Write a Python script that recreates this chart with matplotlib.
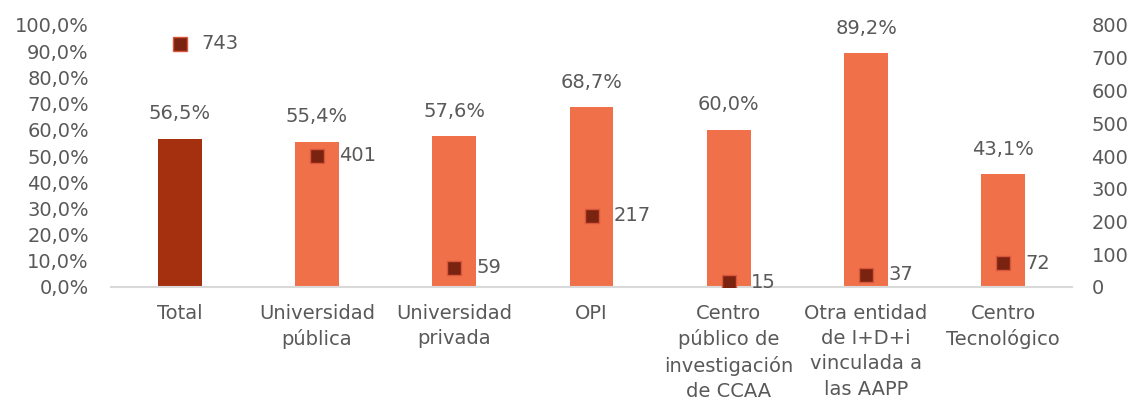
import matplotlib
matplotlib.use("Agg")
import matplotlib.pyplot as plt
import numpy as np

categories = ["Total", "Universidad\npública", "Universidad\nprivada", "OPI",
              "Centro\npúblico de\ninvestigación\nde CCAA",
              "Otra entidad\nde I+D+i\nvinculada a\nlas AAPP",
              "Centro\nTecnológico"]
pct_values = [56.5, 55.4, 57.6, 68.7, 60.0, 89.2, 43.1]
count_values = [743, 401, 59, 217, 15, 37, 72]
left_ticks = [0, 10, 20, 30, 40, 50, 60, 70, 80, 90, 100]
right_ticks = [0, 100, 200, 300, 400, 500, 600, 700, 800]

plt.rcParams['font.family'] = ['DejaVu Sans']
txt = '#595959'
fs = 14

fig = plt.figure(figsize=(11.37, 4.0), dpi=100)
ax = fig.add_axes([111/1137, 1-287/400, (1072-111)/1137, 262/400])
x = np.arange(len(categories))
colors = ['#A5300F'] + ['#F0704A'] * (len(categories) - 1)
ax.bar(x, pct_values, width=0.32, color=colors, zorder=2)
ax.set_xlim(-0.5, len(categories) - 0.5)
ax.set_ylim(0, 100)
ax.set_yticks(left_ticks)
ax.set_yticklabels([f"{t:.1f}%".replace('.', ',') for t in left_ticks])
ax.set_xticks(x)
ax.set_xticklabels(categories, linespacing=1.42)
ax.tick_params(axis='both', length=0, labelsize=fs, labelcolor=txt)
ax.tick_params(axis='x', pad=12)
ax.tick_params(axis='y', pad=16)
for s in ['top', 'right', 'left']:
    ax.spines[s].set_visible(False)
ax.spines['bottom'].set_color('#D9D9D9')
ax.spines['bottom'].set_linewidth(1.5)
for xi, v in zip(x, pct_values):
    ax.annotate(f"{v:.1f}%".replace('.', ','), (xi, v), xytext=(0, 18),
                textcoords='offset points', ha='center', va='center',
                fontsize=fs, color=txt)

ax2 = ax.twinx()
ax2.set_ylim(0, 800)
ax2.set_yticks(right_ticks)
ax2.tick_params(axis='y', length=0, labelsize=fs, labelcolor=txt, pad=14)
for s in ['top', 'right', 'left', 'bottom']:
    ax2.spines[s].set_visible(False)
ax2.plot(x, count_values, linestyle='none', marker='s', markersize=10,
         markerfacecolor='#7B2311', markeredgecolor='#D9573A', markeredgewidth=1, zorder=3)
for xi, v in zip(x, count_values):
    ax2.annotate(str(v), (xi, v), xytext=(16, 0), textcoords='offset points',
                 ha='left', va='center', fontsize=fs, color=txt)

fig.savefig("out.png", dpi=100)
